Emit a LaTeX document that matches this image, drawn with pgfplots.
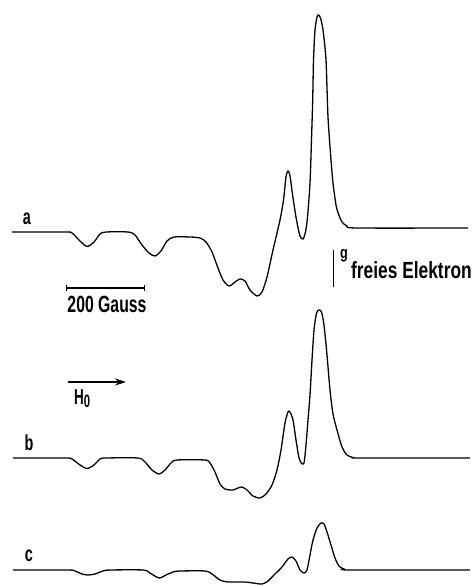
\documentclass[border=0pt]{standalone}
\usepackage{pgfplots}
\pgfplotsset{compat=1.18}
\usepackage{fontspec}
\setmainfont{Liberation Sans}
\usetikzlibrary{arrows.meta}
\begin{document}
\begin{tikzpicture}
\begin{axis}[
  scale only axis, width=475pt, height=586pt,
  xmin=0, xmax=475, ymin=0, ymax=586, y dir=reverse,
  hide axis, clip=false,
]
\addplot[draw=none, forget plot] coordinates {(0,0) (475,586)};
% trace a
\addplot[black, line width=1.3pt, smooth, tension=0.45] coordinates {
(12,232) (65,232) (72,233) (80,241) (87,246.5) (94,242) (100,234) (106,232) (128,232)
(135,235) (142,245) (149,253) (155,256) (161,251) (167,241) (174,237) (190,237) (200,238)
(206,242) (212,252) (218,268) (223,280) (229,286) (235,282) (240,279) (245,281) (250,290)
(257,296) (262,292) (267,277) (273,250) (280,220) (283.5,200) (286,177) (288,171) (290,176)
(293,198) (296.5,220) (300,236) (303,239) (305.5,232) (307.5,217) (310,183) (311.7,133)
(312.7,100) (313.5,60) (315,30) (317,17) (318.5,15) (320.5,18) (323,30) (326,60) (328,117)
(331,160) (333,183) (336,205) (338.5,214) (342,222) (347,226) (357,228) (468,228)
};
% trace b
\addplot[black, line width=1.3pt, smooth, tension=0.45] coordinates {
(13,458) (65,458) (72,459) (80,465) (87,468.5) (94,465) (100,459) (106,458) (138,458)
(145,462) (152,470) (159,474) (165,470) (171,463) (177,460) (205,460) (210,463) (215,472)
(220,484) (225,489) (233,490) (238,488) (242,487) (247,490) (253,496) (260,498) (266,494)
(272,485) (277,470) (281,450) (285,423) (288,412) (290,412) (293,420) (296,440) (299,458)
(301.5,463) (304,463) (306,445) (308,420) (310,395) (312,360) (314,330) (316.5,313) (319,310)
(321.5,312) (324,325) (327,355) (330,390) (333,414) (337,430) (342,447) (347,455) (353,457.5)
(360,458) (470,458)
};
% trace c
\addplot[black, line width=1.3pt, smooth, tension=0.45] coordinates {
(13,570) (68,570) (75,571) (82,574) (88,575) (95,574) (103,571) (110,570) (143,570)
(150,573) (159,578) (166,575) (173,572) (180,571) (205,571) (212,574) (220,580) (228,582)
(245,582) (253,583) (262,584) (268,581) (275,574) (282,567) (288,559) (292,557) (296,561)
(300,570) (304,573) (307,570) (310,555) (313,540) (317,528) (321,523) (324,524) (327,532)
(331,545) (335,558) (339,566) (344,569) (352,570) (470,570)
};
% scale bar
\draw[black, line width=1.1pt] (axis cs:66,288) -- (axis cs:144,288);
\draw[black, line width=0.9pt] (axis cs:66,285) -- (axis cs:66,291);
\draw[black, line width=0.9pt] (axis cs:144,285) -- (axis cs:144,291);
\node[inner sep=0pt, xscale=0.81, yscale=1.2, font=\bfseries\fontsize{19.5}{21}\selectfont] at (axis cs:107,304) {200 Gauss};
% H0 arrow
\draw[black, line width=1.1pt, -{Stealth[length=11pt, width=7pt]}] (axis cs:68,382) -- (axis cs:126,382);
\node[inner sep=0pt, xscale=0.75, yscale=1.2, anchor=base west, font=\bfseries\fontsize{18}{20}\selectfont] at (axis cs:74,404) {H\raisebox{-3pt}{\fontsize{15}{15}\selectfont 0}};
% g marker
\draw[black, line width=0.8pt] (axis cs:333,250) -- (axis cs:333,287);
\node[inner sep=0pt, xscale=0.9, yscale=1.2, font=\bfseries\fontsize{14}{16}\selectfont] at (axis cs:344,256) {g};
\node[inner sep=0pt, anchor=base west, xscale=0.89, yscale=1.2, font=\bfseries\fontsize{19.5}{21}\selectfont] at (axis cs:351,278) {freies Elektron};
% labels
\node[inner sep=0pt, xscale=0.8, yscale=1.2, font=\bfseries\fontsize{18}{20}\selectfont] at (axis cs:27,219) {a};
\node[inner sep=0pt, xscale=0.8, yscale=1.2, font=\bfseries\fontsize{18}{20}\selectfont] at (axis cs:29,443) {b};
\node[inner sep=0pt, xscale=0.8, yscale=1.2, font=\bfseries\fontsize{18}{20}\selectfont] at (axis cs:29,556) {c};
\end{axis}
\end{tikzpicture}
\end{document}
